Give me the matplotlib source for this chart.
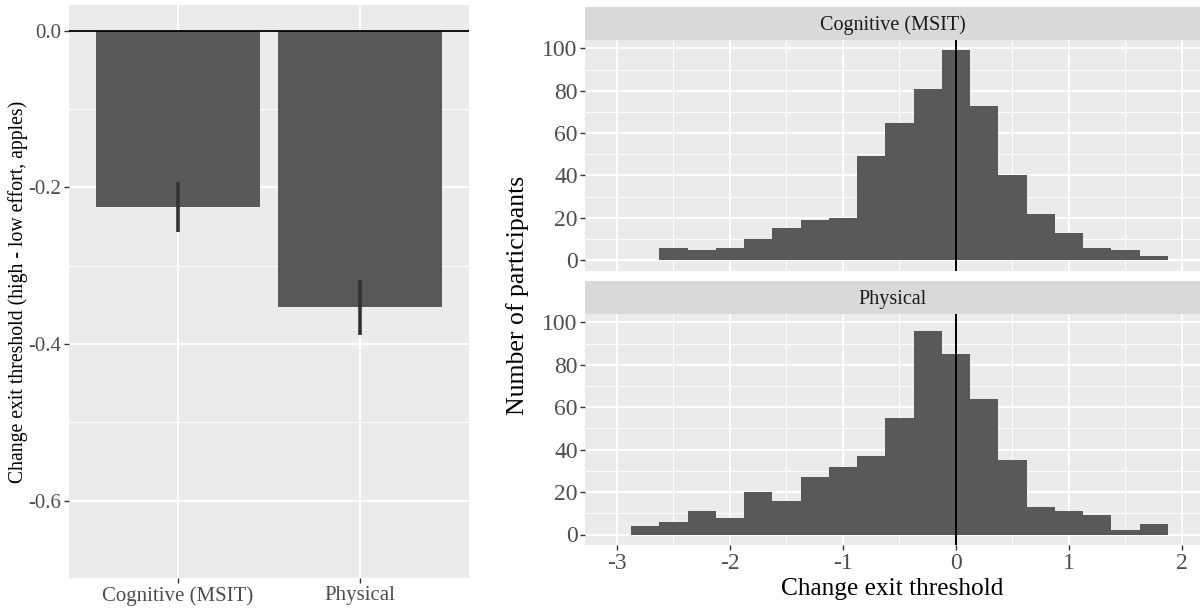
import matplotlib
matplotlib.use("Agg")
import matplotlib.pyplot as plt
import numpy as np

plt.rcParams['font.family'] = ['Liberation Serif', 'DejaVu Serif']

# ---- data ----
conditions = ["Cognitive (MSIT)", "Physical"]
mean_change = [-0.225, -0.353]
se_change = [0.032, 0.035]

bin_width = 0.25
cog_centers = [-2.5, -2.25, -2.0, -1.75, -1.5, -1.25, -1.0, -0.75, -0.5, -0.25,
               0.0, 0.25, 0.5, 0.75, 1.0, 1.25, 1.5, 1.75]
cog_counts = [6, 5, 6, 10, 15, 19, 20, 49, 65, 81, 99, 73, 40, 22, 13, 6, 5, 2]
phys_centers = [-2.75, -2.5, -2.25, -2.0, -1.75, -1.5, -1.25, -1.0, -0.75, -0.5,
                -0.25, 0.0, 0.25, 0.5, 0.75, 1.0, 1.25, 1.5, 1.75]
phys_counts = [4, 6, 11, 8, 20, 16, 27, 32, 37, 55, 96, 85, 64, 35, 13, 11, 9, 2, 5]
panel_titles = ["Cognitive (MSIT)", "Physical"]
x_ticks = [-3, -2, -1, 0, 1, 2]
y_ticks_hist = [0, 20, 40, 60, 80, 100]
y_ticks_bar = [0.0, -0.2, -0.4, -0.6]

W, H = 1203, 608
fig = plt.figure(figsize=(W / 100, H / 100), dpi=100)

PANEL = "#EBEBEB"
STRIP = "#D9D9D9"
BAR = "#595959"
TICKC = "#4D4D4D"


def px_axes(x0, y0, x1, y1):
    return fig.add_axes([x0 / W, 1 - y1 / H, (x1 - x0) / W, (y1 - y0) / H])


def gg_style(ax, tick_size):
    ax.set_facecolor(PANEL)
    for s in ax.spines.values():
        s.set_visible(False)
    ax.grid(True, which="major", color="white", linewidth=1.4, zorder=0)
    ax.grid(True, which="minor", color="white", linewidth=0.7, zorder=0)
    ax.set_axisbelow(True)
    ax.tick_params(which="major", length=3.5, width=1.0, color="#333333",
                   labelcolor=TICKC, labelsize=tick_size, pad=2)
    ax.tick_params(which="minor", length=0)


# ---- left: bar chart ----
axL = px_axes(69, 5, 469, 578.3)
gg_style(axL, 15)
xpos = np.arange(1, len(conditions) + 1)
axL.bar(xpos, mean_change, width=0.9, color=BAR, zorder=2)
axL.errorbar(xpos, mean_change, yerr=se_change, fmt="none", ecolor="#333333",
             elinewidth=2.6, capsize=0, zorder=3)
axL.axhline(0, color="black", linewidth=1.3, zorder=4)
axL.set_xlim(0.4, 2.6)
axL.set_ylim(-0.699, 0.033)
axL.set_xticks(xpos)
axL.set_xticklabels(conditions)
axL.set_yticks(y_ticks_bar)
axL.set_yticklabels([f"{v:.1f}" for v in y_ticks_bar])
axL.set_yticks([-0.1, -0.3, -0.5], minor=True)
fig.text(18 / W, 1 - 292 / H, "Change exit threshold (high - low effort, apples)",
         rotation=90, ha="center", va="center", fontsize=14.2, color="black")

# ---- right: histograms ----
panels = [
    (cog_centers, cog_counts, 40, 270.7, 6.7),
    (phys_centers, phys_counts, 314, 545, 281),
]
xl, xr = 585.3, 1200
axes_r = []
for (centers, counts, top, bot, stop), title in zip(panels, panel_titles):
    ax = px_axes(xl, top, xr, bot)
    gg_style(ax, 17)
    ax.bar(centers, counts, width=bin_width, color=BAR, zorder=2)
    ax.axvline(0, color="black", linewidth=1.4, zorder=4)
    ax.set_xlim(-3.28, 2.16)
    ax.set_ylim(-4.95, 103.95)
    ax.set_yticks(y_ticks_hist)
    ax.set_yticks([10, 30, 50, 70, 90], minor=True)
    ax.set_xticks(x_ticks)
    ax.set_xticks([-2.5, -1.5, -0.5, 0.5, 1.5], minor=True)
    # strip
    sax = px_axes(xl, stop, xr, top)
    sax.set_facecolor(STRIP)
    sax.set_xticks([])
    sax.set_yticks([])
    for s in sax.spines.values():
        s.set_visible(False)
    sax.text(0.5, 0.45, title, ha="center", va="center", fontsize=14.5,
             color="#1A1A1A", transform=sax.transAxes)
    axes_r.append(ax)

axes_r[0].tick_params(axis="x", which="both", length=0, labelbottom=False)
axes_r[1].set_xticklabels([str(v) for v in x_ticks])
axes_r[1].set_xlabel("Change exit threshold", fontsize=18.3, labelpad=3,
                     color="black")
fig.text(518 / W, 1 - 295 / H, "Number of participants", rotation=90,
         ha="center", va="center", fontsize=18.5, color="black")

fig.savefig("out.png", dpi=100, facecolor="white")
